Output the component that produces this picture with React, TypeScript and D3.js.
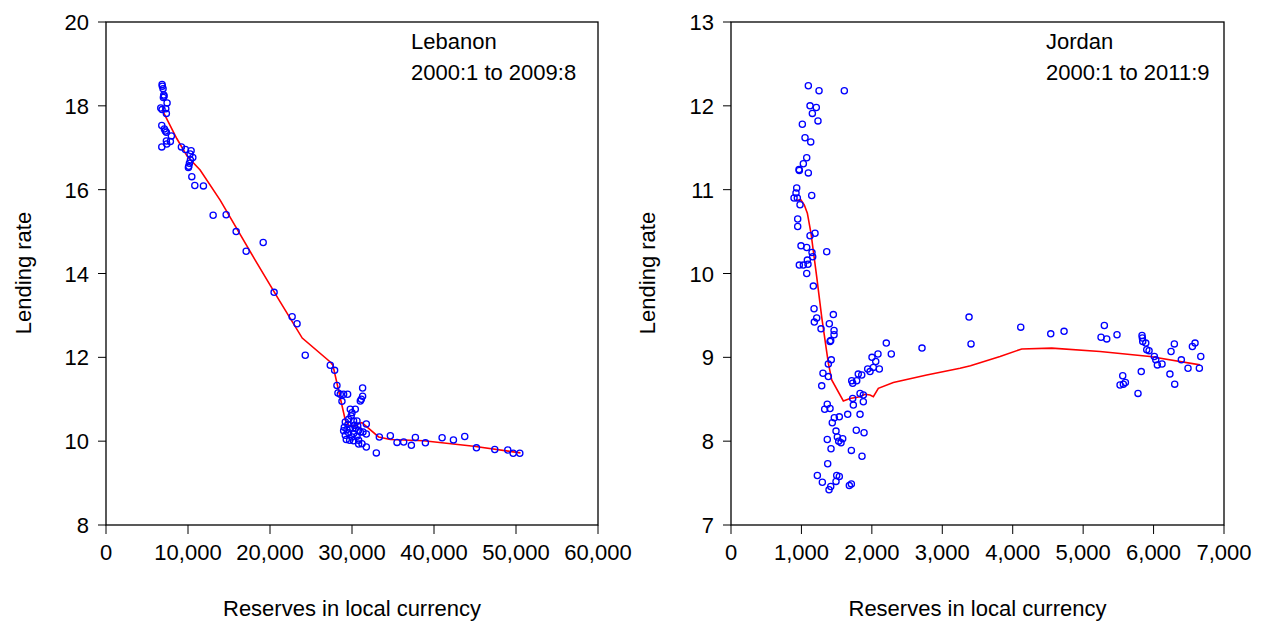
import React from "react";
import * as d3 from "d3";

// ---------- Lebanon ----------
const lebanonPoints: [number, number][] = [
  [6838, 18.51], [6874, 18.47], [6960, 18.41], [7045, 18.26], [7082, 18.23], [6996, 18.2],
  [7448, 18.07], [6679, 17.95], [6838, 17.91], [7289, 17.93], [7362, 17.82], [6801, 17.53],
  [7118, 17.45], [7240, 17.4], [7362, 17.37], [7973, 17.28], [7362, 17.16], [7851, 17.15],
  [7411, 17.09], [6801, 17.02], [9194, 17.02], [9683, 16.96], [10379, 16.93], [10256, 16.85],
  [10586, 16.77], [10293, 16.71], [10171, 16.63], [10049, 16.53], [10098, 16.56], [10464, 16.31],
  [10830, 16.1], [11880, 16.09], [13065, 15.39], [14652, 15.4], [15873, 15.0], [17094, 14.53],
  [19170, 14.74], [20500, 13.55], [22700, 12.97], [23300, 12.8], [24298, 12.05], [27350, 11.81],
  [27880, 11.69], [28163, 11.33], [28285, 11.15], [28571, 11.12], [28978, 11.12], [29466, 11.12],
  [28775, 10.95], [31294, 11.27], [31294, 11.07], [31135, 11.0], [31013, 10.96], [29792, 10.76],
  [30402, 10.76], [30000, 10.68], [29182, 10.46], [29588, 10.52], [30195, 10.48], [30606, 10.48],
  [31746, 10.41], [29060, 10.33], [29386, 10.28], [29792, 10.3], [30402, 10.3], [30809, 10.26],
  [28978, 10.25], [29588, 10.2], [30195, 10.18], [31013, 10.22], [31338, 10.22], [31746, 10.17],
  [29182, 10.14], [30000, 10.1], [30606, 10.12], [29304, 10.04], [29711, 10.02], [30195, 10.01],
  [30809, 10.02], [31216, 9.94], [30809, 9.93], [31746, 9.86], [32967, 9.72], [33333, 10.1],
  [34676, 10.13], [35490, 9.97], [36301, 9.98], [37241, 9.9], [37729, 10.09], [38950, 9.96],
  [40988, 10.08], [42369, 10.03], [43748, 10.11], [45177, 9.84], [47412, 9.8], [48998, 9.79],
  [49657, 9.71], [50465, 9.71], [29900, 10.6], [30300, 10.38], [29500, 10.4], [30700, 10.36],
];
const lebanonFit: [number, number][] = [
  [6838, 17.91], [8630, 17.22], [9927, 16.79], [11477, 16.47], [13919, 15.75], [18193, 14.32],
  [21000, 13.4], [23932, 12.46], [27350, 11.89], [27676, 11.81], [29182, 10.5], [29588, 10.38],
  [30402, 10.36], [30809, 10.42], [31216, 10.44], [33248, 10.1], [34676, 10.04], [38743, 10.01],
  [44848, 9.88], [50549, 9.72],
];
const lebanonXTicks = [0, 10000, 20000, 30000, 40000, 50000, 60000];
const lebanonYTicks = [8, 10, 12, 14, 16, 18, 20];

// ---------- Jordan ----------
const jordanPoints: [number, number][] = [
  [1098, 12.24], [1250, 12.18], [1609, 12.18], [1122, 12.0], [1211, 11.98], [1155, 11.91],
  [1235, 11.82], [1013, 11.78], [1051, 11.62], [1132, 11.57], [1075, 11.38], [1027, 11.31],
  [966, 11.24], [970, 11.23], [1098, 11.2], [933, 11.02], [923, 10.96], [895, 10.9],
  [942, 10.9], [1146, 10.93], [980, 10.82], [947, 10.65], [947, 10.56], [1122, 10.45],
  [1193, 10.48], [994, 10.33], [1075, 10.31], [1150, 10.25], [1359, 10.26], [1160, 10.2],
  [1084, 10.16], [970, 10.1], [1027, 10.1], [1093, 10.11], [1075, 10.0], [1169, 9.85],
  [1179, 9.58], [1453, 9.51], [1217, 9.47], [1183, 9.42], [1396, 9.4], [1278, 9.34],
  [1463, 9.32], [1463, 9.27], [1416, 9.2], [1406, 9.19], [2205, 9.17], [2712, 9.11],
  [2087, 9.04], [2276, 9.04], [2002, 9.0], [1424, 8.97], [2055, 8.95], [1382, 8.92],
  [1941, 8.86], [2021, 8.88], [2106, 8.86], [1974, 8.83], [1807, 8.8], [1856, 8.79],
  [1306, 8.81], [1382, 8.77], [1785, 8.72], [1714, 8.72], [1728, 8.69], [1288, 8.66],
  [1832, 8.57], [1879, 8.55], [1728, 8.51], [1879, 8.47], [1737, 8.43], [1367, 8.44],
  [1330, 8.38], [1406, 8.39], [1657, 8.32], [1832, 8.32], [1538, 8.29], [1467, 8.28],
  [1438, 8.22], [1779, 8.13], [1889, 8.1], [1491, 8.12], [1510, 8.05], [1586, 8.03],
  [1367, 8.02], [1529, 8.0], [1562, 7.98], [1420, 7.91], [1709, 7.89], [1860, 7.82],
  [1373, 7.73], [1226, 7.59], [1501, 7.59], [1538, 7.58], [1297, 7.51], [1491, 7.52],
  [1416, 7.46], [1392, 7.42], [1680, 7.47], [1709, 7.49], [3380, 9.48], [3408, 9.16],
  [4114, 9.36], [4540, 9.28], [4729, 9.31], [5301, 9.38], [5254, 9.24], [5335, 9.22],
  [5481, 9.27], [5836, 9.26], [5841, 9.23], [5846, 9.19], [5889, 9.17], [5903, 9.09],
  [5936, 9.08], [6295, 9.16], [6248, 9.07], [6589, 9.17], [6551, 9.13], [6670, 9.01],
  [6011, 9.01], [6031, 8.97], [6054, 8.91], [6120, 8.92], [6394, 8.97], [6489, 8.87],
  [6650, 8.87], [5825, 8.83], [6232, 8.8], [5562, 8.78], [5600, 8.7], [5571, 8.68],
  [5524, 8.67], [6300, 8.68], [5779, 8.57],
];
const jordanFit: [number, number][] = [
  [923, 10.87], [990, 10.88], [1040, 10.82], [1084, 10.72], [1136, 10.48], [1217, 9.96],
  [1288, 9.48], [1382, 8.93], [1430, 8.73], [1595, 8.48], [1690, 8.51], [1832, 8.53],
  [1903, 8.56], [1974, 8.55], [2021, 8.53], [2092, 8.63], [2305, 8.7], [2779, 8.79],
  [3252, 8.87], [3400, 8.9], [3820, 9.01], [4128, 9.1], [4554, 9.11], [5240, 9.07],
  [5950, 9.01], [6660, 8.91],
];
const jordanXTicks = [0, 1000, 2000, 3000, 4000, 5000, 6000, 7000];
const jordanYTicks = [7, 8, 9, 10, 11, 12, 13];

const FONT = "'Liberation Sans', Arial, sans-serif";
const fmt = d3.format(",");

type PanelProps = {
  points: [number, number][];
  fit: [number, number][];
  xDomain: [number, number];
  yDomain: [number, number];
  xTicks: number[];
  yTicks: number[];
  left: number;
  right: number;
  title: string;
  subtitle: string;
  titleX: number;
  yTitleX: number;
};

function Panel(p: PanelProps) {
  const top = 22;
  const bottom = 525;
  const x = d3.scaleLinear().domain(p.xDomain).range([p.left, p.right]);
  const y = d3.scaleLinear().domain(p.yDomain).range([bottom, top]);
  const line = d3
    .line<[number, number]>()
    .x((d) => x(d[0]))
    .y((d) => y(d[1]));
  const midX = (p.left + p.right) / 2;
  return (
    <g fontFamily={FONT}>
      <rect x={p.left} y={top} width={p.right - p.left} height={bottom - top} fill="none" stroke="#000" strokeWidth={1.3} />
      {p.yTicks.map((t) => (
        <g key={"y" + t}>
          <line x1={p.left - 8} x2={p.left} y1={y(t)} y2={y(t)} stroke="#000" strokeWidth={1} />
          <text x={p.left - 17} y={y(t) + 8} textAnchor="end" fontSize={22} fill="#000">
            {t}
          </text>
        </g>
      ))}
      {p.xTicks.map((t) => (
        <g key={"x" + t}>
          <line x1={x(t)} x2={x(t)} y1={bottom} y2={bottom + 9} stroke="#000" strokeWidth={1} />
          <text x={x(t)} y={560} textAnchor="middle" fontSize={22} fill="#000">
            {fmt(t)}
          </text>
        </g>
      ))}
      <path d={line(p.fit) || ""} fill="none" stroke="#ff0000" strokeWidth={1.6} />
      {p.points.map((d, i) => (
        <circle key={i} cx={x(d[0])} cy={y(d[1])} r={3.1} fill="none" stroke="#0000ff" strokeWidth={1.3} />
      ))}
      <text x={p.titleX} y={49} fontSize={22} fill="#000">
        {p.title}
      </text>
      <text x={p.titleX} y={80} fontSize={22} fill="#000">
        {p.subtitle}
      </text>
      <text x={midX} y={616} textAnchor="middle" fontSize={22} fill="#000">
        Reserves in local currency
      </text>
      <text
        x={p.yTitleX}
        y={273}
        textAnchor="middle"
        fontSize={22}
        fill="#000"
        transform={`rotate(-90, ${p.yTitleX}, 273)`}
      >
        Lending rate
      </text>
    </g>
  );
}

export default function App() {
  return (
    <svg
      width={1265}
      height={625}
      style={{ position: "absolute", left: 0, top: 0, background: "#fff" }}
    >
      <rect width={1265} height={625} fill="#fff" />
      <Panel
        points={lebanonPoints}
        fit={lebanonFit}
        xDomain={[0, 60000]}
        yDomain={[8, 20]}
        xTicks={lebanonXTicks}
        yTicks={lebanonYTicks}
        left={106}
        right={598}
        title="Lebanon"
        subtitle="2000:1 to 2009:8"
        titleX={411}
        yTitleX={31}
      />
      <Panel
        points={jordanPoints}
        fit={jordanFit}
        xDomain={[0, 7000]}
        yDomain={[7, 13]}
        xTicks={jordanXTicks}
        yTicks={jordanYTicks}
        left={731}
        right={1224}
        title="Jordan"
        subtitle="2000:1 to 2011:9"
        titleX={1046}
        yTitleX={655}
      />
    </svg>
  );
}
